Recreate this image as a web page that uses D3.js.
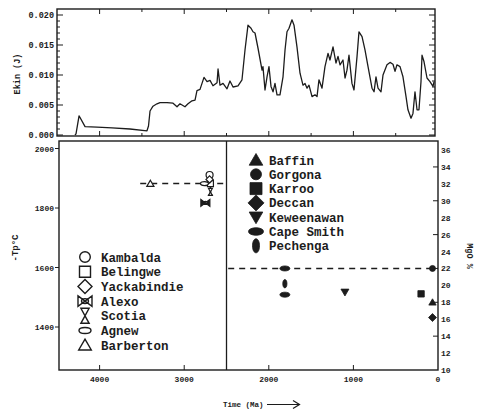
<!DOCTYPE html>
<html>
<head>
<meta charset="utf-8">
<script src="https://cdn.jsdelivr.net/npm/d3@7"></script>
<style>
  body { margin: 0; background: #fff; }
  svg { display: block; }
  text { font-family: "Liberation Mono", "DejaVu Sans Mono", monospace; font-weight: bold; fill: #1c1c1c; }
</style>
</head>
<body>
<svg id="chart" width="478" height="414"></svg>
<script>
// ---- Kinetic energy through time (upper panel) ----
const ekinAge = [4291, 4279, 4243, 4172, 4031, 3853, 3641, 3440, 3422, 3404, 3369, 3322, 3286, 3203, 3132, 3085, 3050,
  2991, 2955, 2908, 2872, 2849, 2813, 2766, 2730, 2695, 2660, 2612, 2600, 2577, 2541, 2494, 2459, 2423, 2364, 2317,
  2281, 2246, 2210, 2187, 2163, 2128, 2080, 2069, 2045, 2021, 1998, 1974, 1950, 1927, 1903, 1868, 1832, 1808, 1785,
  1761, 1726, 1702, 1667, 1631, 1596, 1572, 1548, 1525, 1489, 1454, 1430, 1407, 1371, 1336, 1300, 1277, 1241, 1206,
  1182, 1158, 1123, 1099, 1076, 1052, 1017, 993, 957, 934, 898, 863, 827, 780, 756, 733, 709, 674, 650, 603, 567, 532,
  508, 485, 449, 414, 378, 355, 319, 296, 272, 248, 225, 201, 189, 165, 130, 95, 59, 47];
const ekinValue = [0.0000, 0.0002, 0.0032, 0.0014, 0.0013, 0.0012, 0.0010, 0.0007, 0.0015, 0.0040, 0.0048, 0.0052, 0.0054,
  0.0054, 0.0053, 0.0047, 0.0052, 0.0047, 0.0052, 0.0057, 0.0058, 0.0074, 0.0076, 0.0096, 0.0089, 0.0091, 0.0082,
  0.0087, 0.0110, 0.0083, 0.0086, 0.0077, 0.0090, 0.0080, 0.0082, 0.0092, 0.0142, 0.0183, 0.0178, 0.0172, 0.0170,
  0.0145, 0.0108, 0.0114, 0.0075, 0.0097, 0.0114, 0.0081, 0.0072, 0.0086, 0.0067, 0.0067, 0.0097, 0.0142, 0.0172,
  0.0178, 0.0192, 0.0183, 0.0147, 0.0103, 0.0083, 0.0086, 0.0078, 0.0083, 0.0064, 0.0067, 0.0064, 0.0092, 0.0078,
  0.0114, 0.0136, 0.0125, 0.0147, 0.0120, 0.0131, 0.0117, 0.0125, 0.0095, 0.0108, 0.0133, 0.0086, 0.0075, 0.0131,
  0.0172, 0.0164, 0.0142, 0.0114, 0.0078, 0.0072, 0.0097, 0.0078, 0.0072, 0.0100, 0.0117, 0.0121, 0.0118, 0.0106,
  0.0117, 0.0114, 0.0097, 0.0064, 0.0042, 0.0028, 0.0036, 0.0072, 0.0042, 0.0042, 0.0089, 0.0133, 0.0122, 0.0095,
  0.0089, 0.0081, 0.0089];
const ekinTicks = [0, 0.005, 0.010, 0.015, 0.020];

// ---- Shared time axis ----
const timeTicks = [4000, 3000, 2000, 1000, 0];
const dividerAge = 2500;

// ---- Archean komatiites: mantle potential temperature ----
const tpTicks = [2000, 1800, 1600, 1400];
const archeanNames = ["Kambalda", "Belingwe", "Yackabindie", "Alexo", "Scotia", "Agnew", "Barberton"];
const archeanShapes = ["circle", "square", "diamond", "bowtie", "hourglass", "ellipseH", "triUp"];
const archeanAge = [2700, 2690, 2700, 2750, 2690, 2760, 3400];
const archeanTp = [1911, 1882, 1896, 1817, 1854, 1882, 1882];
const scotiaRange = [1843, 1877];
const archeanLineTp = 1882;
const archeanLineAge = [3520, 2520];

// ---- Younger picrites/komatiites: MgO content ----
const mgoTicks = [36, 34, 32, 30, 28, 26, 24, 22, 20, 18, 16, 14, 12, 10];
const mgoMinorTicks = [34, 30, 26, 22, 18, 14];
const youngNames = ["Baffin", "Gorgona", "Karroo", "Deccan", "Keweenawan", "Cape Smith", "Pechenga"];
const youngShapes = ["triUp", "circle", "square", "diamond", "triDown", "ellipseH", "ellipseV"];
const youngPointKind = ["Baffin", "Gorgona", "Karroo", "Deccan", "Keweenawan", "Cape Smith", "Cape Smith", "Pechenga"];
const youngPointAge = [65, 65, 200, 65, 1100, 1810, 1810, 1810];
const youngPointMgO = [18, 22, 19, 16.2, 19.2, 22, 18.9, 20.2];
const youngLineMgO = 22;
const youngLineAge = [2480, 0];

// ---------------------------------------------------------------
const ink = "#1c1c1c";
const svg = d3.select("#chart");

const panelTop = { l: 57, r: 435, t: 9, b: 136 };
const panelBot = { l: 59, r: 438, t: 141, b: 370 };

const x = d3.scaleLinear().domain([4480, 0]).range([59, 438]);
const yE = d3.scaleLinear().domain([0, 0.02]).range([135, 15]);
const yTp = d3.scaleLinear().domain([1400, 2000]).range([327, 148.5]);
const yMg = d3.scaleLinear().domain([10, 36]).range([370, 150]);

function shapePath(kind, s) {
  const p = d3.path();
  const ell = (rx, ry) => {
    p.moveTo(-rx, 0);
    p.bezierCurveTo(-rx, -ry * 1.33, rx, -ry * 1.33, rx, 0);
    p.bezierCurveTo(rx, ry * 1.33, -rx, ry * 1.33, -rx, 0);
    p.closePath();
  };
  switch (kind) {
    case "circle": p.moveTo(s, 0); p.arc(0, 0, s, 0, 2 * Math.PI); p.closePath(); break;
    case "square": p.rect(-s, -s, 2 * s, 2 * s); break;
    case "diamond": p.moveTo(0, -s); p.lineTo(s, 0); p.lineTo(0, s); p.lineTo(-s, 0); p.closePath(); break;
    case "triUp": p.moveTo(0, -s); p.lineTo(s * 1.05, s * 0.8); p.lineTo(-s * 1.05, s * 0.8); p.closePath(); break;
    case "triDown": p.moveTo(0, s); p.lineTo(s * 1.05, -s * 0.8); p.lineTo(-s * 1.05, -s * 0.8); p.closePath(); break;
    case "ellipseH": ell(s, s * 0.5); break;
    case "ellipseV": ell(s * 0.5, s); break;
    case "bowtie":
      p.moveTo(-s, -s * 0.75); p.lineTo(s, s * 0.75); p.lineTo(s, -s * 0.75); p.lineTo(-s, s * 0.75); p.closePath();
      ell(s * 0.5, s * 0.35); break;
    case "hourglass":
      p.moveTo(-s * 0.55, -s); p.lineTo(s * 0.55, -s); p.lineTo(-s * 0.55, s); p.lineTo(s * 0.55, s); p.closePath(); break;
  }
  return p.toString();
}

// ================= Upper panel =================
const gT = svg.append("g");
gT.append("rect").attr("x", panelTop.l).attr("y", panelTop.t)
  .attr("width", panelTop.r - panelTop.l).attr("height", panelTop.b - panelTop.t)
  .attr("fill", "none").attr("stroke", ink).attr("stroke-width", 1.4);

const eMinor = d3.range(0, 0.0205, 0.001);
eMinor.forEach(v => {
  const major = Math.abs(v / 0.005 - Math.round(v / 0.005)) < 1e-6;
  const len = major ? 6 : 3;
  gT.append("line").attr("x1", panelTop.l).attr("x2", panelTop.l + len).attr("y1", yE(v)).attr("y2", yE(v))
    .attr("stroke", ink).attr("stroke-width", 1);
  gT.append("line").attr("x1", panelTop.r).attr("x2", panelTop.r - len).attr("y1", yE(v)).attr("y2", yE(v))
    .attr("stroke", ink).attr("stroke-width", 1);
});
d3.range(500, 4500, 500).forEach(t => {
  const len = t % 1000 === 0 ? 5 : 3;
  gT.append("line").attr("x1", x(t)).attr("x2", x(t)).attr("y1", panelTop.b).attr("y2", panelTop.b - len)
    .attr("stroke", ink).attr("stroke-width", 1);
  gT.append("line").attr("x1", x(t)).attr("x2", x(t)).attr("y1", panelTop.t).attr("y2", panelTop.t + len)
    .attr("stroke", ink).attr("stroke-width", 1);
});
gT.selectAll("text.ey").data(ekinTicks).join("text")
  .attr("x", 54).attr("y", d => yE(d) + 3).attr("text-anchor", "end").attr("font-size", 8.5)
  .text(d => d3.format(".3f")(d));
gT.append("text").attr("transform", "translate(20,74) rotate(-90)").attr("text-anchor", "middle")
  .attr("font-size", 8.5).text("Ekin (J)");

gT.append("path")
  .datum(ekinAge.map((a, i) => [a, ekinValue[i]]))
  .attr("fill", "none").attr("stroke", ink).attr("stroke-width", 1.3).attr("stroke-linejoin", "round")
  .attr("d", d3.line().x(d => x(d[0])).y(d => yE(d[1])));

// ================= Lower panel =================
const gB = svg.append("g");
gB.append("rect").attr("x", panelBot.l).attr("y", panelBot.t)
  .attr("width", panelBot.r - panelBot.l).attr("height", panelBot.b - panelBot.t)
  .attr("fill", "none").attr("stroke", ink).attr("stroke-width", 1.4);
gB.append("line").attr("x1", x(dividerAge)).attr("x2", x(dividerAge)).attr("y1", panelBot.t).attr("y2", panelBot.b)
  .attr("stroke", ink).attr("stroke-width", 1.3);

// left (Tp) axis
tpTicks.forEach(t => {
  gB.append("line").attr("x1", panelBot.l - 4).attr("x2", panelBot.l).attr("y1", yTp(t)).attr("y2", yTp(t))
    .attr("stroke", ink).attr("stroke-width", 1);
});
gB.selectAll("text.tp").data(tpTicks).join("text")
  .attr("x", 54).attr("y", d => yTp(d) + 3).attr("text-anchor", "end").attr("font-size", 8).text(d => d);
gB.append("text").attr("transform", "translate(18,248) rotate(-90)").attr("text-anchor", "middle")
  .attr("font-size", 9).text("-Tp°C");

// right (MgO) axis
mgoMinorTicks.forEach(m => {
  gB.append("line").attr("x1", panelBot.r - 5).attr("x2", panelBot.r).attr("y1", yMg(m)).attr("y2", yMg(m))
    .attr("stroke", ink).attr("stroke-width", 1);
});
gB.selectAll("text.mg").data(mgoTicks).join("text")
  .attr("x", 441).attr("y", d => yMg(d) + 3).attr("font-size", 8).text(d => d);
gB.append("text").attr("transform", "translate(467,256) rotate(90)").attr("text-anchor", "middle")
  .attr("font-size", 8.5).text("MgO %");

// time axis
timeTicks.filter(t => t > 0).forEach(t => {
  gB.append("line").attr("x1", x(t)).attr("x2", x(t)).attr("y1", panelBot.b).attr("y2", panelBot.b - 5)
    .attr("stroke", ink).attr("stroke-width", 1);
});
gB.selectAll("text.tx").data(timeTicks).join("text")
  .attr("x", d => x(d)).attr("y", 382).attr("text-anchor", "middle").attr("font-size", 8).text(d => d);
gB.append("text").attr("x", 223).attr("y", 407).attr("font-size", 7.5).text("Time (Ma)");
gB.append("path").attr("d", "M267,404.5 H299 M293,400.5 L299.5,404.5 L293,408.5")
  .attr("fill", "none").attr("stroke", ink).attr("stroke-width", 1.2);

// dashed reference levels
gB.append("line").attr("x1", x(archeanLineAge[0])).attr("x2", x(archeanLineAge[1]))
  .attr("y1", yTp(archeanLineTp)).attr("y2", yTp(archeanLineTp))
  .attr("stroke", ink).attr("stroke-width", 1.5).attr("stroke-dasharray", "6,5");
gB.append("line").attr("x1", x(youngLineAge[0])).attr("x2", x(youngLineAge[1]))
  .attr("y1", yMg(youngLineMgO)).attr("y2", yMg(youngLineMgO))
  .attr("stroke", ink).attr("stroke-width", 1.5).attr("stroke-dasharray", "6,5");

// Scotia range bar
const scotiaX = x(archeanAge[archeanNames.indexOf("Scotia")]);
gB.append("path")
  .attr("d", `M${scotiaX},${yTp(scotiaRange[1])} V${yTp(scotiaRange[0])} M${scotiaX - 2.5},${yTp(scotiaRange[0])} H${scotiaX + 2.5}`)
  .attr("stroke", ink).attr("stroke-width", 1.6).attr("fill", "none");

// Archean points (open symbols)
const archeanPointSize = { circle: 3.5, square: 3, diamond: 3.6, bowtie: 4.5, hourglass: 3.5, ellipseH: 4, triUp: 3.4 };
archeanNames.forEach((n, i) => {
  const k = archeanShapes[i];
  gB.append("path").attr("d", shapePath(k, archeanPointSize[k]))
    .attr("transform", `translate(${x(archeanAge[i])},${yTp(archeanTp[i])})`)
    .attr("fill", k === "bowtie" ? ink : "#fff").attr("stroke", ink).attr("stroke-width", 1.2);
});

// Younger points (filled symbols)
const youngPointSize = { triUp: 3.5, circle: 3, square: 3.2, diamond: 4, triDown: 3.8, ellipseH: 5, ellipseV: 4.2 };
youngPointKind.forEach((n, i) => {
  const k = youngShapes[youngNames.indexOf(n)];
  gB.append("path").attr("d", shapePath(k, youngPointSize[k]))
    .attr("transform", `translate(${x(youngPointAge[i])},${yMg(youngPointMgO[i])})`)
    .attr("fill", ink).attr("stroke", ink).attr("stroke-width", 0.8);
});

// Legends
const legendOpenSize = { circle: 5.3, square: 5.5, diamond: 7, bowtie: 7, hourglass: 7.5, ellipseH: 6, triUp: 6 };
archeanNames.forEach((n, i) => {
  const cy = 257 + i * 14.7;
  const k = archeanShapes[i];
  gB.append("path").attr("d", shapePath(k, legendOpenSize[k])).attr("transform", `translate(85,${cy})`)
    .attr("fill", "none").attr("stroke", ink).attr("stroke-width", 1.4);
  gB.append("text").attr("x", 101).attr("y", cy + 4.5).attr("font-size", 12.5).text(n);
});
const legendFillSize = { triUp: 6.5, circle: 5.5, square: 6, diamond: 8, triDown: 6.5, ellipseH: 7.5, ellipseV: 7 };
youngNames.forEach((n, i) => {
  const cy = 160 + i * 14.3;
  const k = youngShapes[i];
  gB.append("path").attr("d", shapePath(k, legendFillSize[k])).attr("transform", `translate(256,${cy})`)
    .attr("fill", ink).attr("stroke", ink).attr("stroke-width", 0.8);
  gB.append("text").attr("x", 269).attr("y", cy + 4.5).attr("font-size", 12.5).text(n);
});
</script>
</body>
</html>
